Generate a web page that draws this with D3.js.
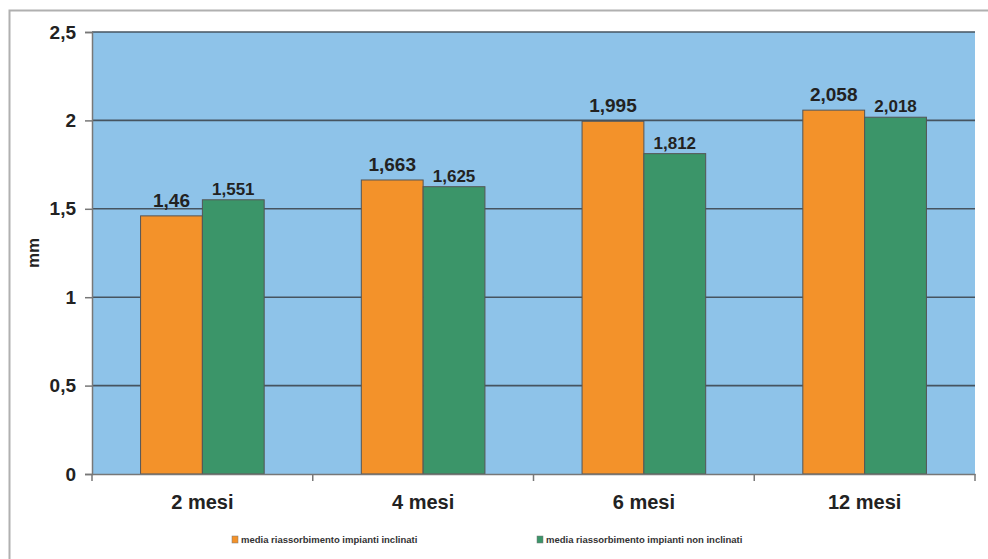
<!DOCTYPE html>
<html><head><meta charset="utf-8">
<script src="https://cdn.jsdelivr.net/npm/d3@7"></script>
<style>body{margin:0;background:#fff}svg{display:block}text{font-family:"Liberation Sans",Arial,sans-serif}</style>
</head><body>
<svg id="c" width="988" height="559"></svg>
<script>
const categories = ["2 mesi","4 mesi","6 mesi","12 mesi"];
const seriesNames = ["media riassorbimento impianti inclinati","media riassorbimento impianti non inclinati"];
const inclinati = [1.46,1.663,1.995,2.058];
const nonInclinati = [1.551,1.625,1.812,2.018];
const yTicks = [0,0.5,1,1.5,2,2.5];
const colors = ["#F3922A","#3B9569"];

const svg = d3.select("#c");
const fmt = v => String(v).replace(".", ",");
// frame
svg.append("path").attr("d","M9.5,559 L9.5,10.5 L988,10.5").attr("fill","none").attr("stroke","#b0b0b0").attr("stroke-width",2);

const m = {l:92, r:975, t:32, b:474};
const x = d3.scaleBand().domain(categories).range([m.l,m.r]);
const y = d3.scaleLinear().domain([0,2.5]).range([m.b,m.t]);
const barW = x.bandwidth()*0.28;

svg.append("rect").attr("x",m.l).attr("y",m.t).attr("width",m.r-m.l).attr("height",m.b-m.t).attr("fill","#8EC3E9");
svg.selectAll(".grid").data(yTicks.filter(d=>d>0)).join("line")
  .attr("x1",m.l).attr("x2",m.r).attr("y1",d=>y(d)).attr("y2",d=>y(d))
  .attr("stroke","#465460").attr("stroke-width",1.6);

const series = [inclinati, nonInclinati];
series.forEach((vals,si)=>{
  svg.selectAll(".b"+si).data(vals).join("rect")
    .attr("x",(d,i)=>x(categories[i])+x.bandwidth()/2 + (si===0?-barW:0))
    .attr("y",d=>y(d)).attr("width",barW).attr("height",d=>y(0)-y(d))
    .attr("fill",colors[si]).attr("stroke","#555").attr("stroke-width",1);
  svg.selectAll(".l"+si).data(vals).join("text")
    .attr("x",(d,i)=>x(categories[i])+x.bandwidth()/2 + (si===0?-barW/2:barW/2))
    .attr("y",d=>y(d)-(si===0?9:5)).attr("text-anchor","middle")
    .attr("font-size",si===0?19:17).attr("font-weight","bold").attr("fill","#222")
    .text(d=>fmt(d));
});

// axes
const ya = d3.axisLeft(y).tickValues(yTicks).tickFormat(fmt).tickSize(7).tickPadding(9);
const gy = svg.append("g").attr("transform",`translate(${m.l},0)`).call(ya);
gy.select(".domain").attr("stroke","#777").attr("stroke-width",1.5);
gy.selectAll(".tick line").attr("stroke","#777").attr("stroke-width",1.5);
gy.selectAll("text").attr("font-size",19).attr("font-weight","bold").attr("fill","#222").attr("font-family","Liberation Sans, Arial, sans-serif");

const xa = d3.axisBottom(x).tickSize(0).tickPadding(21);
const gx = svg.append("g").attr("transform",`translate(0,${m.b})`).call(xa);
gx.select(".domain").attr("stroke","#777").attr("stroke-width",1.5);
gx.selectAll("text").attr("font-size",20).attr("font-weight","bold").attr("fill","#222").attr("font-family","Liberation Sans, Arial, sans-serif");
svg.selectAll(".xt").data(d3.range(categories.length+1)).join("line")
  .attr("x1",i=>m.l+i*x.step()).attr("x2",i=>m.l+i*x.step())
  .attr("y1",m.b).attr("y2",m.b+7).attr("stroke","#777").attr("stroke-width",1.5);

svg.append("text").attr("transform","translate(39,253) rotate(-90)").attr("text-anchor","middle")
  .attr("font-size",17).attr("font-weight","bold").attr("fill","#222").text("mm");

// legend
const lx = [232, 537];
seriesNames.forEach((n,i)=>{
  svg.append("rect").attr("x",lx[i]).attr("y",536).attr("width",6).attr("height",7).attr("fill",colors[i]).attr("stroke","#777").attr("stroke-width",0.5);
  svg.append("text").attr("x",lx[i]+9).attr("y",543).attr("font-size",9.5).attr("font-weight","bold").attr("fill","#333").text(n);
});
</script>
</body></html>
